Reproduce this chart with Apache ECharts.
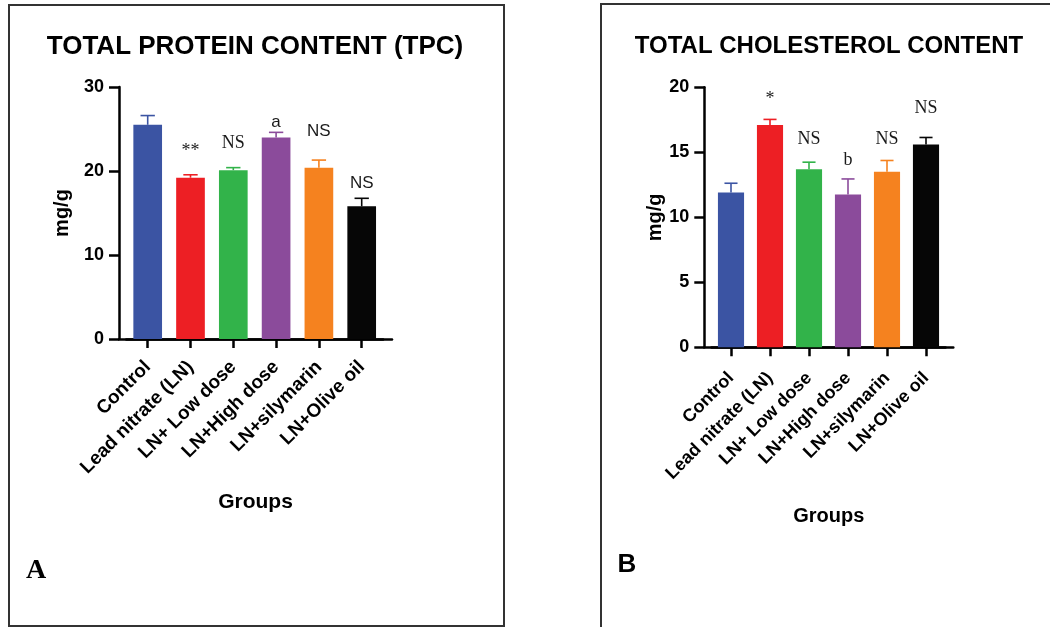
<!DOCTYPE html>
<html>
<head>
<meta charset="utf-8">
<script src="https://cdn.jsdelivr.net/npm/echarts@6/dist/echarts.min.js"></script>
<style>
html, body { margin: 0; padding: 0; background: #fff; }
#main { width: 1050px; height: 627px; }
</style>
</head>
<body>
<div id="main"></div>
<script>
// groups on the x axis, same for both panels
const groups = ['Control', 'Lead nitrate (LN)', 'LN+ Low dose', 'LN+High dose', 'LN+silymarin', 'LN+Olive oil'];

// panel A - total protein content (mg/g)
const tpcMean = [25.5, 19.2, 20.1, 24.0, 20.4, 15.8];
const tpcErr = [1.1, 0.35, 0.3, 0.6, 0.9, 0.95];
const tpcMarks = ['', '**', 'NS', 'a', 'NS', 'NS'];
const tpcMarkY = [0, 22.3, 23.3, 25.8, 24.7, 18.5];
const tpcTicks = [0, 10, 20, 30];

// panel B - total cholesterol content (mg/g)
const cholMean = [11.9, 17.1, 13.7, 11.75, 13.5, 15.6];
const cholErr = [0.72, 0.43, 0.54, 1.2, 0.87, 0.54];
const cholMarks = ['', '*', 'NS', 'b', 'NS', 'NS'];
const cholMarkY = [0, 19.1, 16.0, 14.4, 16.0, 18.4];
const cholTicks = [0, 5, 10, 15, 20];

const barColors = ['#3b54a3', '#ed1f24', '#32b34a', '#8b4b9b', '#f5821f', '#060606'];
const SANS = 'Liberation Sans, Arial, sans-serif';
const SERIF = 'Liberation Serif, Times New Roman, serif';
const axisLine = {color: '#000', width: 2.5};

let grids = [], xAxes = [], yAxes = [], series = [];

// each panel uses two grids: a wide one that carries the y axis and the
// long x axis line, and a narrower one where the categories sit
function addPanel(p) {
    const g0 = grids.length, g1 = g0 + 1;
    const min = p.ticks[0], max = p.ticks[p.ticks.length - 1];
    const interval = p.ticks[1] - p.ticks[0];

    grids.push({left: p.axisLeft, top: p.top, width: p.axisWidth, height: p.height});
    grids.push({left: p.bandLeft, top: p.top, width: p.bandWidth, height: p.height});

    xAxes.push({
        gridIndex: g0, type: 'value', min: 0, max: 1,
        axisLine: {show: true, onZero: false, lineStyle: axisLine},
        axisTick: {show: false}, axisLabel: {show: false}, splitLine: {show: false},
        name: 'Groups', nameLocation: 'middle', nameGap: p.groupsGap,
        nameTextStyle: {fontFamily: SANS, fontWeight: 'bold', fontSize: p.groupsSize, color: '#000'}
    });
    xAxes.push({
        gridIndex: g1, type: 'category', data: groups,
        axisLine: {show: true, lineStyle: axisLine},
        axisTick: {show: true, alignWithLabel: true, length: 9, lineStyle: axisLine},
        axisLabel: {rotate: 45, interval: 0, margin: p.labelMargin, fontFamily: SANS,
            fontWeight: 'bold', fontSize: p.labelSize, color: '#000'}
    });
    yAxes.push({
        gridIndex: g0, type: 'value', min: min, max: max, interval: interval,
        axisLine: {show: true, lineStyle: axisLine},
        axisTick: {show: true, length: 10, lineStyle: axisLine},
        axisLabel: {margin: 15, fontFamily: SANS, fontWeight: 'bold', fontSize: 18, color: '#000'},
        splitLine: {show: false},
        name: 'mg/g', nameLocation: 'middle', nameGap: p.nameGap, nameRotate: 90,
        nameTextStyle: {fontFamily: SANS, fontWeight: 'bold', fontSize: 20, color: '#000'}
    });
    yAxes.push({gridIndex: g1, type: 'value', min: min, max: max, show: false});

    series.push({
        type: 'bar', xAxisIndex: g1, yAxisIndex: g1, barWidth: '67%',
        data: p.mean.map((v, i) => ({value: v, itemStyle: {color: barColors[i]}})),
        z: 2
    });
    series.push({
        type: 'custom', xAxisIndex: g1, yAxisIndex: g1, z: 3,
        data: p.mean.map((v, i) => [i, v, v + p.err[i]]),
        encode: {x: 0, y: [1, 2]},
        renderItem: (params, api) => {
            const i = api.value(0);
            const base = api.coord([i, api.value(1)]);
            const top = api.coord([i, api.value(2)]);
            const half = api.size([1, 0])[0] * 0.67 / 4;
            const st = {stroke: barColors[i], lineWidth: 1.6};
            return {type: 'group', children: [
                {type: 'line', shape: {x1: base[0], y1: base[1], x2: top[0], y2: top[1]}, style: st},
                {type: 'line', shape: {x1: top[0] - half, y1: top[1], x2: top[0] + half, y2: top[1]}, style: st}
            ]};
        }
    });
    series.push({
        type: 'custom', xAxisIndex: g1, yAxisIndex: g1, z: 4,
        data: p.markY.map((y, i) => [i, y]),
        encode: {x: 0, y: 1},
        renderItem: (params, api) => {
            const i = params.dataIndex;
            const txt = p.marks[i];
            if (!txt) return null;
            const pt = api.coord([api.value(0), api.value(1)]);
            const serif = p.serif.indexOf(i) >= 0;
            const font = serif ? ('18px ' + SERIF) : ('17px ' + SANS);
            return {
                type: 'text', x: pt[0], y: pt[1],
                style: {text: txt, font: font, fill: '#1a1a1a',
                    align: 'center', verticalAlign: 'middle',
                    textAlign: 'center', textVerticalAlign: 'middle'}
            };
        }
    });
}

addPanel({
    mean: tpcMean, err: tpcErr, marks: tpcMarks, markY: tpcMarkY, ticks: tpcTicks,
    serif: [1, 2],
    axisLeft: 119, axisWidth: 273, bandLeft: 126.3, bandWidth: 256.8,
    top: 87, height: 252, nameGap: 47, groupsGap: 153, groupsSize: 21,
    labelSize: 19, labelMargin: 25
});
addPanel({
    mean: cholMean, err: cholErr, marks: cholMarks, markY: cholMarkY, ticks: cholTicks,
    serif: [1, 2, 3, 4, 5],
    axisLeft: 704.3, axisWidth: 249, bandLeft: 711.5, bandWidth: 234,
    top: 87.3, height: 260, nameGap: 37, groupsGap: 159, groupsSize: 20,
    labelSize: 18, labelMargin: 28
});

function label(text, x, y, font) {
    return {type: 'text', x: x, y: y, z: 10,
        style: {text: text, font: font, fill: '#000',
            align: 'center', verticalAlign: 'middle',
            textAlign: 'center', textVerticalAlign: 'middle'}};
}

const chart = echarts.init(document.getElementById('main'));
chart.setOption({
    animation: false,
    backgroundColor: '#fff',
    grid: grids,
    xAxis: xAxes,
    yAxis: yAxes,
    series: series,
    graphic: [
        {type: 'rect', shape: {x: 9, y: 5, width: 495, height: 621},
            style: {fill: 'none', stroke: '#333', lineWidth: 2}},
        {type: 'rect', shape: {x: 601, y: 4, width: 470, height: 640},
            style: {fill: 'none', stroke: '#333', lineWidth: 2}},
        label('TOTAL PROTEIN CONTENT (TPC)', 255, 47, 'bold 26px ' + SANS),
        label('TOTAL CHOLESTEROL CONTENT', 829, 46, 'bold 24px ' + SANS),
        label('A', 36, 571, 'bold 28px ' + SERIF),
        label('B', 627, 565, 'bold 26px Liberation Sans Narrow, ' + SANS)
    ]
});
</script>
</body>
</html>
